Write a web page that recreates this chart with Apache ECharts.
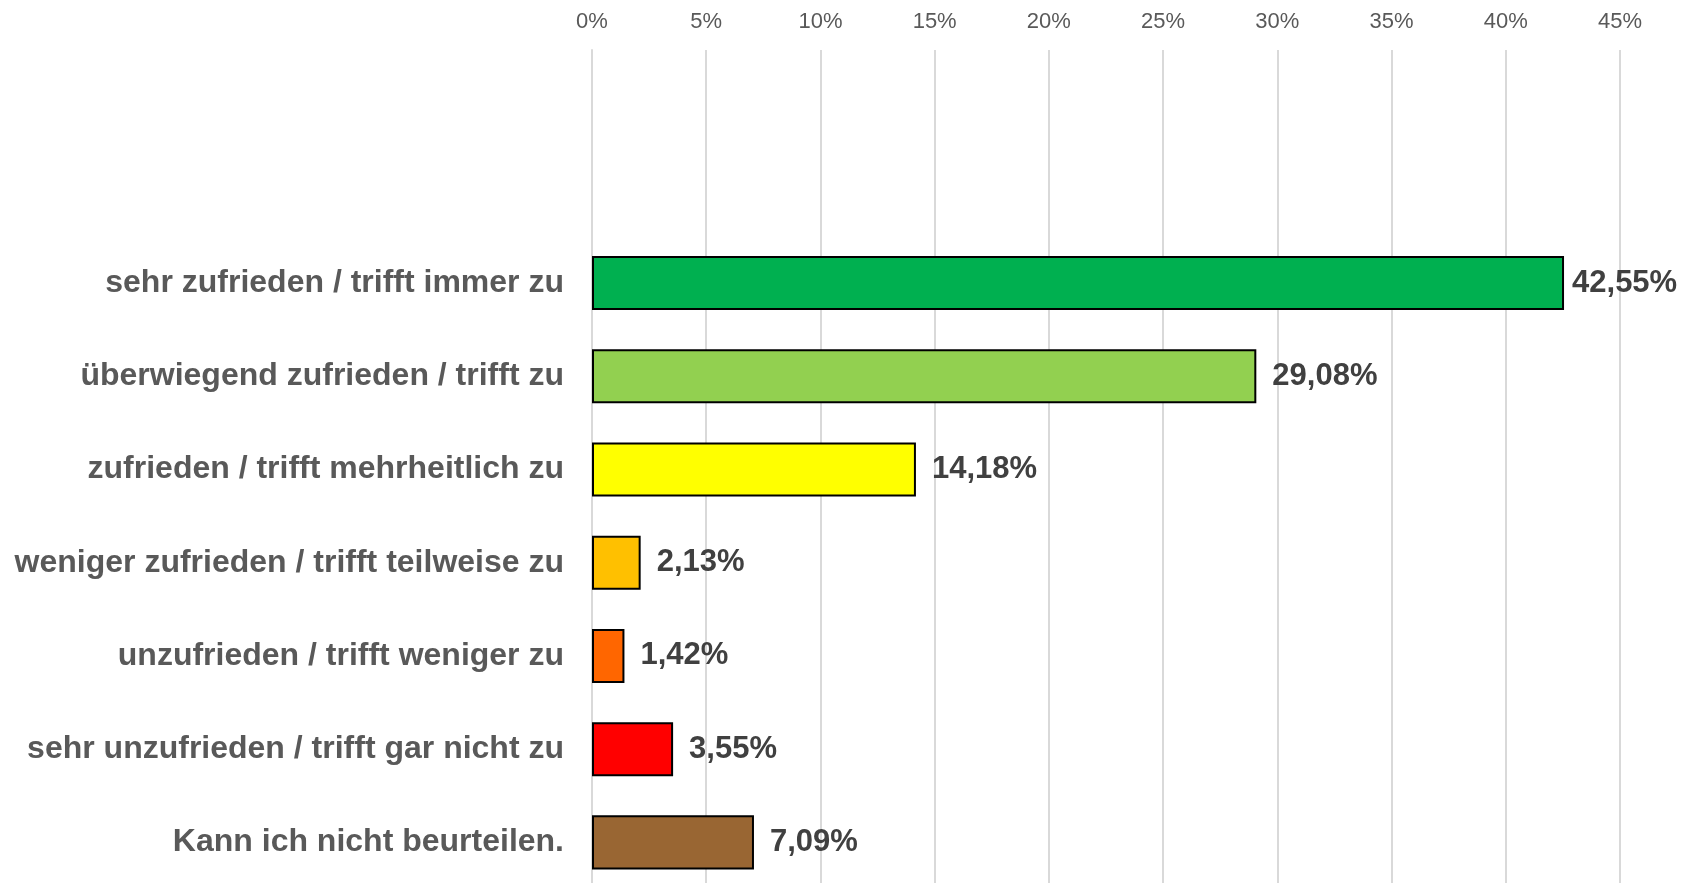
<!DOCTYPE html>
<html>
<head>
<meta charset="utf-8">
<script src="https://cdn.jsdelivr.net/npm/echarts@6/dist/echarts.min.js"></script>
<style>
    html, body { margin: 0; padding: 0; background: #fff; overflow: hidden; }
    /* plot area runs a few px past the bottom edge of the picture */
    #chart { width: 1701px; height: 889px; }
</style>
</head>
<body>
<div id="chart"></div>
<script>
    // two empty slots at the top, as in the original sheet
    const categories = [
        '',
        '',
        'sehr zufrieden / trifft immer zu',
        'überwiegend zufrieden / trifft zu',
        'zufrieden / trifft mehrheitlich zu',
        'weniger zufrieden / trifft teilweise zu',
        'unzufrieden / trifft weniger zu',
        'sehr unzufrieden / trifft gar nicht zu',
        'Kann ich nicht beurteilen.'
    ]
    const values = [null, null, 42.55, 29.08, 14.18, 2.13, 1.42, 3.55, 7.09]
    const barColors = [null, null, '#00B050', '#92D050', '#FFFF00', '#FFC000', '#FF6600', '#FF0000', '#996633']
    const axisMin = 0
    const axisMax = 45
    const axisStep = 5

    const chart = echarts.init(document.getElementById('chart'))

    const option = {
        animation: false,
        textStyle: {
            fontFamily: "'Liberation Sans', Arial, sans-serif"
        },
        grid: {
            left: 592,
            right: 81,
            top: 50,
            bottom: 0,
            containLabel: false
        },
        xAxis: {
            type: 'value',
            position: 'top',
            min: axisMin,
            max: axisMax,
            interval: axisStep,
            axisLine: { show: false },
            axisTick: { show: false },
            axisLabel: {
                formatter: '{value}%',
                fontSize: 22,
                color: '#595959',
                margin: 17
            },
            splitLine: {
                lineStyle: {
                    color: '#D9D9D9',
                    width: 2
                }
            }
        },
        yAxis: {
            type: 'category',
            inverse: true,
            data: categories,
            axisLine: {
                show: true,
                lineStyle: {
                    color: '#D9D9D9',
                    width: 2
                }
            },
            axisTick: { show: false },
            axisLabel: {
                fontSize: 32,
                fontWeight: 'bold',
                color: '#595959',
                margin: 28
            }
        },
        series: [{
            type: 'bar',
            barWidth: '58%',
            data: values.map((v, i) => ({
                value: v,
                itemStyle: { color: barColors[i] },
                // biggest bar label sits tighter, as in Excel
                label: { distance: i === 2 ? 8 : 16 }
            })),
            itemStyle: {
                borderColor: '#000',
                borderWidth: 2
            },
            label: {
                show: true,
                position: 'right',
                fontSize: 31,
                fontWeight: 'bold',
                color: '#404040',
                formatter: p => p.value == null ? '' : p.value.toFixed(2).replace('.', ',') + '%'
            }
        }]
    }

    chart.setOption(option)
</script>
</body>
</html>
